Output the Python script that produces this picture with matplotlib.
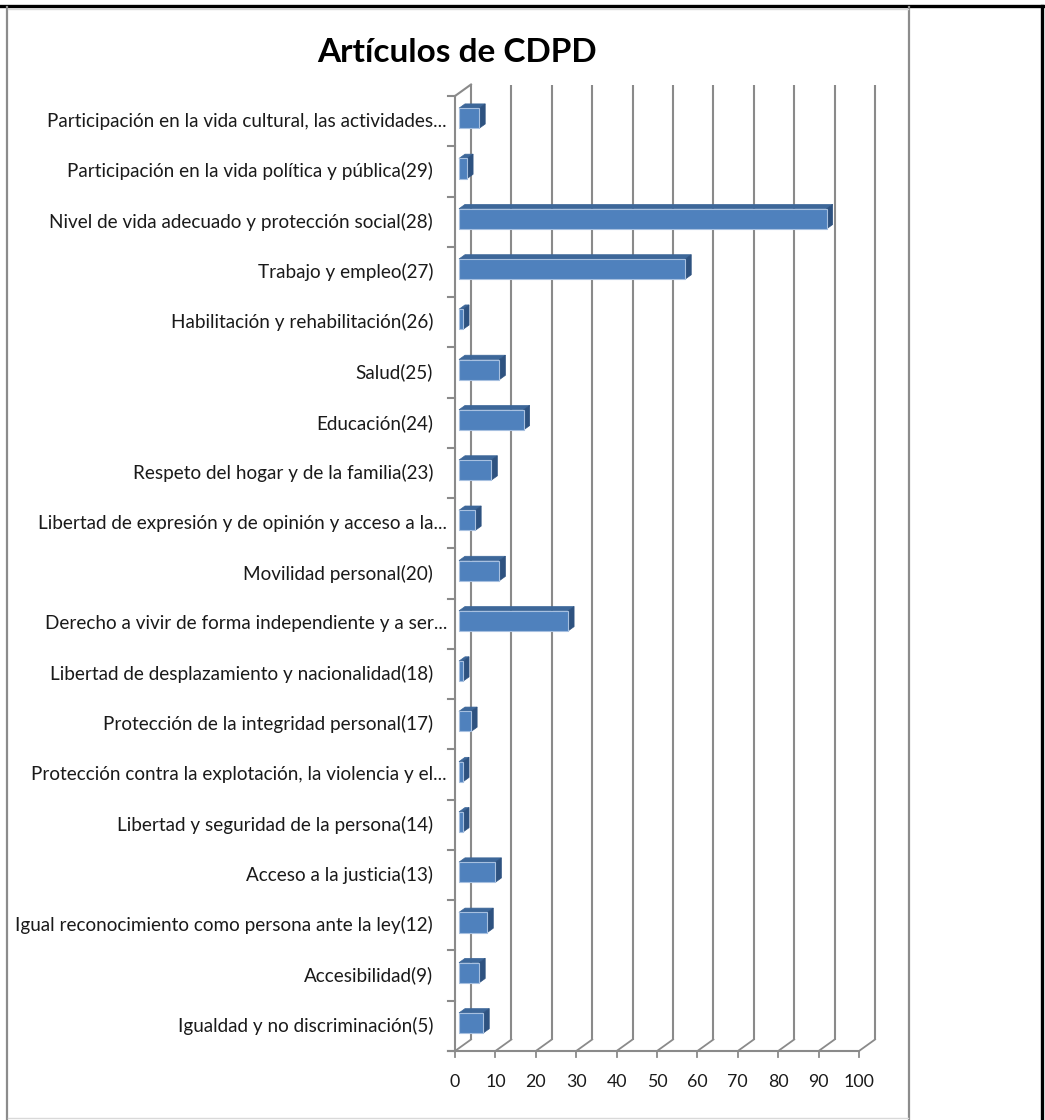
import matplotlib
matplotlib.use("Agg")
import matplotlib.pyplot as plt
from matplotlib.patches import Polygon, Rectangle
from matplotlib.lines import Line2D

# categories listed bottom -> top (as the chart shows them)
categories = [
    "Igualdad y no discriminación(5)",
    "Accesibilidad(9)",
    "Igual reconocimiento como persona ante la ley(12)",
    "Acceso a la justicia(13)",
    "Libertad y seguridad de la persona(14)",
    "Protección contra la explotación, la violencia y el...",
    "Protección de la integridad personal(17)",
    "Libertad de desplazamiento y nacionalidad(18)",
    "Derecho a vivir de forma independiente y a ser...",
    "Movilidad personal(20)",
    "Libertad de expresión y de opinión y acceso a la...",
    "Respeto del hogar y de la familia(23)",
    "Educación(24)",
    "Salud(25)",
    "Habilitación y rehabilitación(26)",
    "Trabajo y empleo(27)",
    "Nivel de vida adecuado y protección social(28)",
    "Participación en la vida política y pública(29)",
    "Participación en la vida cultural, las actividades...",
]
values = [6, 5, 7, 9, 1, 1, 3, 1, 27, 10, 4, 8, 16, 10, 1, 56, 91, 2, 5]
x_ticks = list(range(0, 101, 10))
title = "Artículos de CDPD"

plt.rcParams['font.family'] = ['Lato', 'DejaVu Sans']

W, H = 1045, 1120
fig = plt.figure(figsize=(W / 100, H / 100), dpi=100)
fig.patch.set_facecolor('white')

# page / table borders
fig.add_artist(Line2D([0, 1], [1 - 6 / H, 1 - 6 / H], color='black', lw=2.4, transform=fig.transFigure))
fig.add_artist(Line2D([1042 / W, 1042 / W], [0, 1 - 6 / H], color='black', lw=2.4, transform=fig.transFigure))
fig.add_artist(Line2D([7 / W, 7 / W], [0, 1 - 7 / H], color='#8c8c8c', lw=1.6, transform=fig.transFigure))
fig.add_artist(Line2D([909 / W, 909 / W], [0, 1 - 7 / H], color='#8c8c8c', lw=1.6, transform=fig.transFigure))
fig.add_artist(Line2D([8 / W, 908 / W], [1 - 9 / H, 1 - 9 / H], color='#d9d9d9', lw=1, transform=fig.transFigure))
fig.add_artist(Line2D([8 / W, 908 / W], [2 / H, 2 / H], color='#d9d9d9', lw=1, transform=fig.transFigure))

ax = fig.add_axes([455 / W, 69 / H, 404 / W, 955 / H])
ax.set_xlim(0, 100)
ax.set_ylim(-0.5, len(categories) - 0.5)
ax.axis('off')

# pixel -> data conversion
p0 = ax.transData.transform((0, 0))
p1 = ax.transData.transform((1, 1))
sx, sy = p1[0] - p0[0], p1[1] - p0[1]
dx, dy = 16 / sx, 11.5 / sy          # depth of the 3d box
ymin, ymax = -0.5, len(categories) - 0.5
grid_col = '#8a8a8a'

# back wall gridlines
for t in x_ticks:
    ax.plot([t + dx, t + dx], [ymin + dy, ymax + dy], color=grid_col, lw=1.5,
            clip_on=False, zorder=1, solid_capstyle='butt')
    # floor diagonals
    ax.plot([t, t + dx], [ymin, ymin + dy], color=grid_col, lw=1.3, clip_on=False, zorder=1)
    # front tick marks
    ax.plot([t, t], [ymin, ymin - 6 / sy], color=grid_col, lw=1.3, clip_on=False, zorder=1)

# front axis line
ax.plot([-7 / sx, 100], [ymin, ymin], color=grid_col, lw=1.5, clip_on=False, zorder=1)
# left wall
ax.plot([0, 0], [ymin, ymax], color=grid_col, lw=1.5, clip_on=False, zorder=1)
ax.plot([0, dx], [ymax, ymax + dy], color=grid_col, lw=1.5, clip_on=False, zorder=1)
for k in range(len(categories) + 1):
    yk = k - 0.5
    ax.plot([-7 / sx, 0], [yk, yk], color=grid_col, lw=1.5, clip_on=False, zorder=1)

# bars (fake 3d)
f0, fd = 0.25, 0.375
bh = 0.4
front_c, top_c, side_c = '#4f81bd', '#3d6799', '#2e5280'
for i, v in enumerate(values):
    x0 = f0 * dx
    x1 = v + f0 * dx
    y0 = i - bh / 2 + f0 * dy
    y1 = i + bh / 2 + f0 * dy
    bdx, bdy = fd * dx, fd * dy
    ax.add_patch(Polygon([(x0, y1), (x1, y1), (x1 + bdx, y1 + bdy), (x0 + bdx, y1 + bdy)],
                         closed=True, facecolor=top_c, edgecolor=top_c, lw=0.5,
                         clip_on=False, zorder=3))
    ax.add_patch(Polygon([(x1, y0), (x1, y1), (x1 + bdx, y1 + bdy), (x1 + bdx, y0 + bdy)],
                         closed=True, facecolor=side_c, edgecolor=side_c, lw=0.5,
                         clip_on=False, zorder=3))
    ax.add_patch(Rectangle((x0, y0), v, bh, facecolor=front_c, edgecolor='#a7c0e0',
                           lw=0.8, clip_on=False, zorder=4))

# category labels
for i, lab in enumerate(categories):
    off = 8 if lab.endswith("...") else 22
    ax.text(-off / sx, i, lab, ha='right', va='center', fontsize=13.6, color='#1a1a1a')

# x tick labels
for t in x_ticks:
    ax.text(t, ymin - 31 / sy, str(t), ha='center', va='center', fontsize=12.8, color='#1a1a1a')

fig.text(457 / W, 1 - 53 / H, title, ha='center', va='center', fontsize=24,
         fontweight='bold', color='black')

fig.savefig('out.png', dpi=100)
